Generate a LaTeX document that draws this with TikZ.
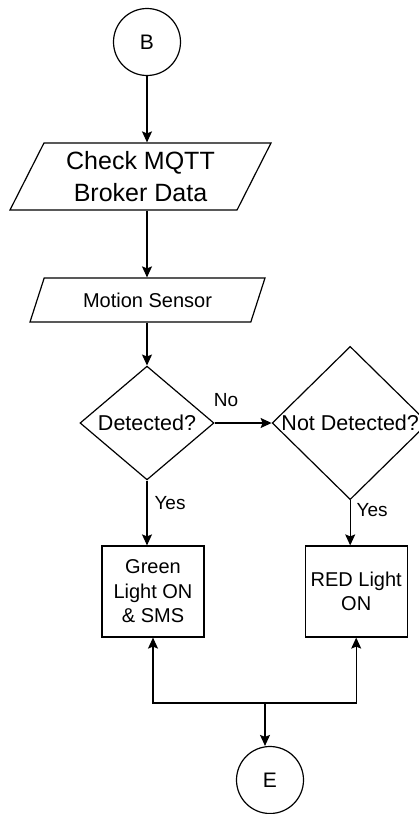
\documentclass[tikz,border=0pt]{standalone}
\usepackage{fontspec}
\setmainfont{Liberation Sans}
\usetikzlibrary{arrows.meta, positioning, calc, shapes.geometric}

\begin{document}
\begin{tikzpicture}[
    x=1pt, y=-1pt,
    >={Stealth[length=11pt, width=10pt, inset=2pt]},
    line width=1.2pt,
    terminal/.style={draw, circle, minimum size=67pt, inner sep=0pt, font=\fontsize{21}{25}\selectfont},
    io/.style={draw, trapezium, trapezium left angle=#1, trapezium right angle=180-#1,
               trapezium stretches body=true, inner sep=0pt, align=center},
    decision/.style={draw, diamond, inner sep=0pt, font=\fontsize{21.5}{26}\selectfont},
    block/.style={draw, minimum width=102pt, minimum height=91pt, inner sep=0pt, align=center,
                  font=\fontsize{20}{24.5}\selectfont},
    lbl/.style={font=\fontsize{19}{22}\selectfont},
    node distance=100pt
]
\useasboundingbox (0,0) rectangle (419,814);

\node[terminal] (start) at (147,42) {B};
\node[io=56, minimum width=261pt, minimum height=67pt, font=\fontsize{25}{32}\selectfont]
    (broker) at (140.5,176.5) {Check MQTT\\Broker Data};
\node[io=46, minimum width=235pt, minimum height=44pt, font=\fontsize{20}{24}\selectfont]
    (sensor) at (147.5,300) {Motion Sensor};
\node[decision, minimum width=134pt, minimum height=110pt] (det) at (147,423) {Detected?};
\node[decision, minimum width=156pt, minimum height=133pt, right=57pt of det] (notdet) {Not Detected?};
\node[block] (green) at (153,591.5) {Green\\Light ON\\\& SMS};
\node[block, right=of green] (red) {RED Light\\ON};
\node[terminal] (stop) at (270,780) {E};

\draw[->] (start.south) -- (start.south |- broker.north);
\draw[->] (start.south |- broker.south) -- (start.south |- sensor.north);
\draw[->] (sensor.south -| start.south) -- (start.south |- det.north);
\draw[->] (det.east) -- node[lbl, pos=0.2, yshift=23pt] {No} (notdet.west);
\draw[->] (det.south) -- node[lbl, pos=0.34, xshift=23pt] {Yes} (det.south |- green.north);
\draw[->] (notdet.south) -- node[lbl, pos=0.21, xshift=22pt] {Yes} (notdet.south |- red.north);

% merge back to connector E
\coordinate (junc) at (265,703);
\draw[->] (junc) -| (green.south);
\draw[->] (junc) -| (red.south);
\draw[->] (junc) -- (junc |- stop.north);

\end{tikzpicture}
\end{document}
